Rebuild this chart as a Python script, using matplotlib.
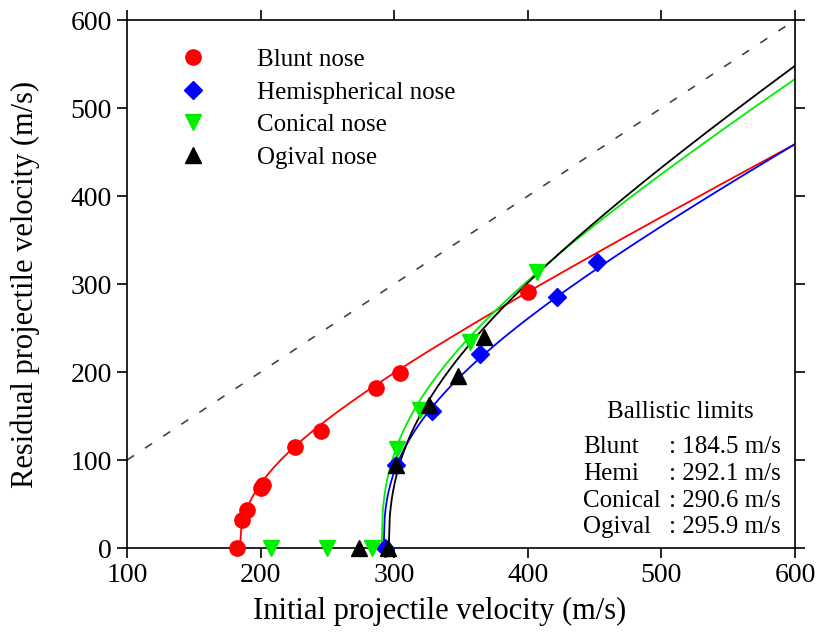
import numpy as np
import matplotlib.pyplot as plt
from matplotlib.lines import Line2D

plt.rcParams['font.family'] = ['Liberation Serif', 'DejaVu Serif']

# measured points (initial velocity, residual velocity), m/s
blunt_vi = [182, 186, 190, 200, 202, 226, 245, 286, 304, 400]
blunt_vr = [0, 32, 43, 68, 72, 115, 133, 182, 199, 291]
hemi_vi = [293, 301, 328, 364, 422, 452]
hemi_vr = [0, 94, 156, 220, 285, 325]
conical_vi = [208, 250, 283, 302, 319, 357, 407]
conical_vr = [0, 0, 0, 113, 157, 234, 314]
ogival_vi = [274, 295, 301, 326, 348, 367]
ogival_vr = [0, 0, 94, 162, 195, 240]

# Recht-Ipson fits: ballistic limit, exponent, residual velocity at 600 m/s
names = ['Blunt', 'Hemi', 'Conical', 'Ogival']
v_bl = [184.5, 292.1, 290.6, 295.9]
p_fit = [2.3, 2.6, 2.6, 2.4]
vr_600 = [459, 459, 533, 548]

legend_labels = ['Blunt nose', 'Hemispherical nose', 'Conical nose', 'Ogival nose']
colors = ['#ff0000', '#0000ff', '#00ee00', '#000000']
markers = ['o', 'D', 'v', '^']
msizes = [11, 9, 12, 12]


def recht_ipson(vi, vbl, p, vr_end):
    a = vr_end / (600.0 ** p - vbl ** p) ** (1.0 / p)
    return a * np.clip(vi ** p - vbl ** p, 0, None) ** (1.0 / p)


fig = plt.figure(figsize=(8.21, 6.34), dpi=100)
ax = fig.add_axes([0.1547, 0.1356, 0.8137, 0.8328])

ax.plot([100, 600], [100, 600], color='#444444', lw=1.2, ls=(0, (5, 8)))

data = [(blunt_vi, blunt_vr), (hemi_vi, hemi_vr),
        (conical_vi, conical_vr), (ogival_vi, ogival_vr)]

for i in range(4):
    vi = np.linspace(v_bl[i], 600, 400)
    vr = recht_ipson(vi, v_bl[i], p_fit[i], vr_600[i])
    vi = np.concatenate([[v_bl[i] - 2.5], vi])
    vr = np.concatenate([[0], vr])
    ax.plot(vi, vr, color=colors[i], lw=1.3, zorder=2)
    ax.plot(data[i][0], data[i][1], ls='none', marker=markers[i],
            color=colors[i], ms=msizes[i], mec=colors[i], zorder=3, clip_on=False)

ax.set_xlim(100, 600)
ax.set_ylim(0, 600)
ax.set_xticks(np.arange(100, 601, 100))
ax.set_yticks(np.arange(0, 601, 100))
ax.tick_params(direction='out', length=7, width=1.2, labelsize=20,
               top=True, right=True, pad=4)
for s in ax.spines.values():
    s.set_linewidth(1.2)

ax.set_xlabel('Initial projectile velocity (m/s)', fontsize=22, labelpad=6)
ax.xaxis.label.set_x(0.468)
ax.set_ylabel('Residual projectile velocity (m/s)', fontsize=22, labelpad=22)

handles = [Line2D([], [], ls='none', marker=markers[i], color=colors[i],
                  ms=msizes[i]) for i in range(4)]
ax.legend(handles, legend_labels, loc='upper left', bbox_to_anchor=(0.065, 0.965),
          frameon=False, fontsize=18, handlelength=1.0, handletextpad=2.05,
          labelspacing=0.4, borderaxespad=0)

ax.text(0.828, 0.257, 'Ballistic limits', transform=ax.transAxes,
        ha='center', va='center', fontsize=18)
row_y = [0.191, 0.1406, 0.0895, 0.04]
for i in range(4):
    ax.text(0.683, row_y[i], names[i], transform=ax.transAxes,
            ha='left', va='center', fontsize=18)
    ax.text(0.811, row_y[i], ': %.1f m/s' % v_bl[i], transform=ax.transAxes,
            ha='left', va='center', fontsize=18)

fig.savefig('out.png', dpi=100)
